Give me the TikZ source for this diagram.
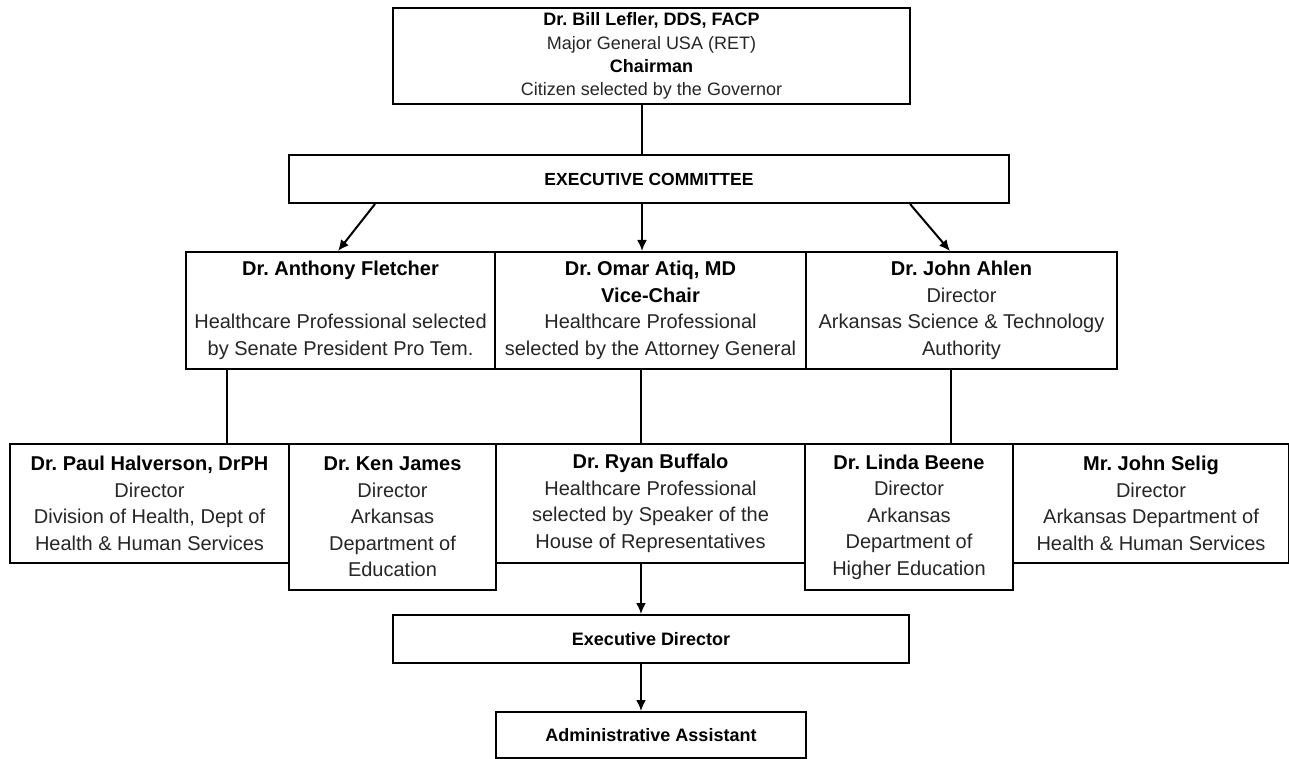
\documentclass[tikz,border=0pt]{standalone}
\usepackage{fontspec}
\setmainfont{Liberation Sans}
\usetikzlibrary{arrows.meta}
\newcommand\bname[1]{\textbf{\color{black}#1}}
\frenchspacing
\begin{document}
\begin{tikzpicture}[x=1pt,y=-1pt,
  box/.style={draw=black, line width=2pt, anchor=north west, inner sep=0pt, align=center,
    font=\frenchspacing\fontsize{20}{26.5}\selectfont, text=black!85},
  smallbox/.style={box, font=\frenchspacing\fontsize{18}{23.3}\selectfont},
  arr/.style={line width=2pt, -{Latex[length=11pt,width=10pt]}},
  conn/.style={line width=2pt}]
\useasboundingbox (0,0) rectangle (1289,759);
\fill[white] (0,0) rectangle (1289,759);

\node[smallbox, minimum width=517pt, minimum height=96pt] (chair) at (392,7)
  {\bname{Dr. Bill Lefler, DDS, FACP}\\Major General USA (RET)\\\bname{Chairman}\\Citizen selected by the Governor};
\node[smallbox, font=\fontsize{17.5}{22}\selectfont, minimum width=720pt, minimum height=48pt] (exec) at (288,154)
  {\bname{EXECUTIVE COMMITTEE}};

\node[box, minimum width=309pt, minimum height=117pt] (fletcher) at (185,251)
  {\bname{Dr. Anthony Fletcher}\\~\\Healthcare Professional selected\\by Senate President Pro Tem.};
\node[box, minimum width=311pt, minimum height=117pt] (atiq) at (494,251)
  {\bname{Dr. Omar Atiq, MD}\\\bname{Vice-Chair}\\Healthcare Professional\\selected by the Attorney General};
\node[box, minimum width=311pt, minimum height=117pt] (ahlen) at (805,251)
  {\bname{Dr. John Ahlen}\\Director\\Arkansas Science \& Technology\\Authority};

\node[box, minimum width=279pt, minimum height=119pt] (halverson) at (9,443)
  {\bname{Dr. Paul Halverson, DrPH}\\Director\\Division of Health, Dept of\\Health \& Human Services};
\node[box, minimum width=207pt, minimum height=146pt] (james) at (288,443)
  {\bname{Dr. Ken James}\\Director\\Arkansas\\Department of\\Education};
\node[box, minimum width=309pt, minimum height=119pt] (buffalo) at (495,443)
  {\bname{Dr. Ryan Buffalo}\\Healthcare Professional\\selected by Speaker of the\\House of Representatives};
\node[box, minimum width=208pt, minimum height=146pt] (beene) at (804,443)
  {\bname{Dr. Linda Beene}\\Director\\Arkansas\\Department of\\Higher Education};
\node[box, minimum width=276pt, minimum height=119pt] (selig) at (1012,443)
  {\bname{Mr. John Selig}\\Director\\Arkansas Department of\\Health \& Human Services};

\node[smallbox, minimum width=516pt, minimum height=48pt] (execdir) at (392,614)
  {\bname{Executive Director}};
\node[smallbox, minimum width=310pt, minimum height=46pt] (admin) at (495,711)
  {\bname{Administrative Assistant}};

\coordinate (cx) at (642,0);
\coordinate (a1) at (375,0);
\coordinate (a2) at (338,0);
\coordinate (b1) at (910,0);
\coordinate (b2) at (950,0);
\coordinate (l) at (227,0);
\coordinate (m) at (641,0);
\coordinate (r) at (951,0);

\draw[conn] (chair.south -| cx) -- (exec.north -| cx);
\draw[arr] (exec.south -| a1) -- (fletcher.north -| a2);
\draw[arr] (exec.south -| cx) -- (atiq.north -| cx);
\draw[arr] (exec.south -| b1) -- (ahlen.north -| b2);
\draw[conn] (fletcher.south -| l) -- (halverson.north -| l);
\draw[conn] (atiq.south -| m) -- (buffalo.north -| m);
\draw[conn] (ahlen.south -| r) -- (beene.north -| r);
\draw[arr] (buffalo.south -| m) -- (execdir.north -| m);
\draw[arr] (execdir.south -| m) -- (admin.north -| m);
\end{tikzpicture}
\end{document}
